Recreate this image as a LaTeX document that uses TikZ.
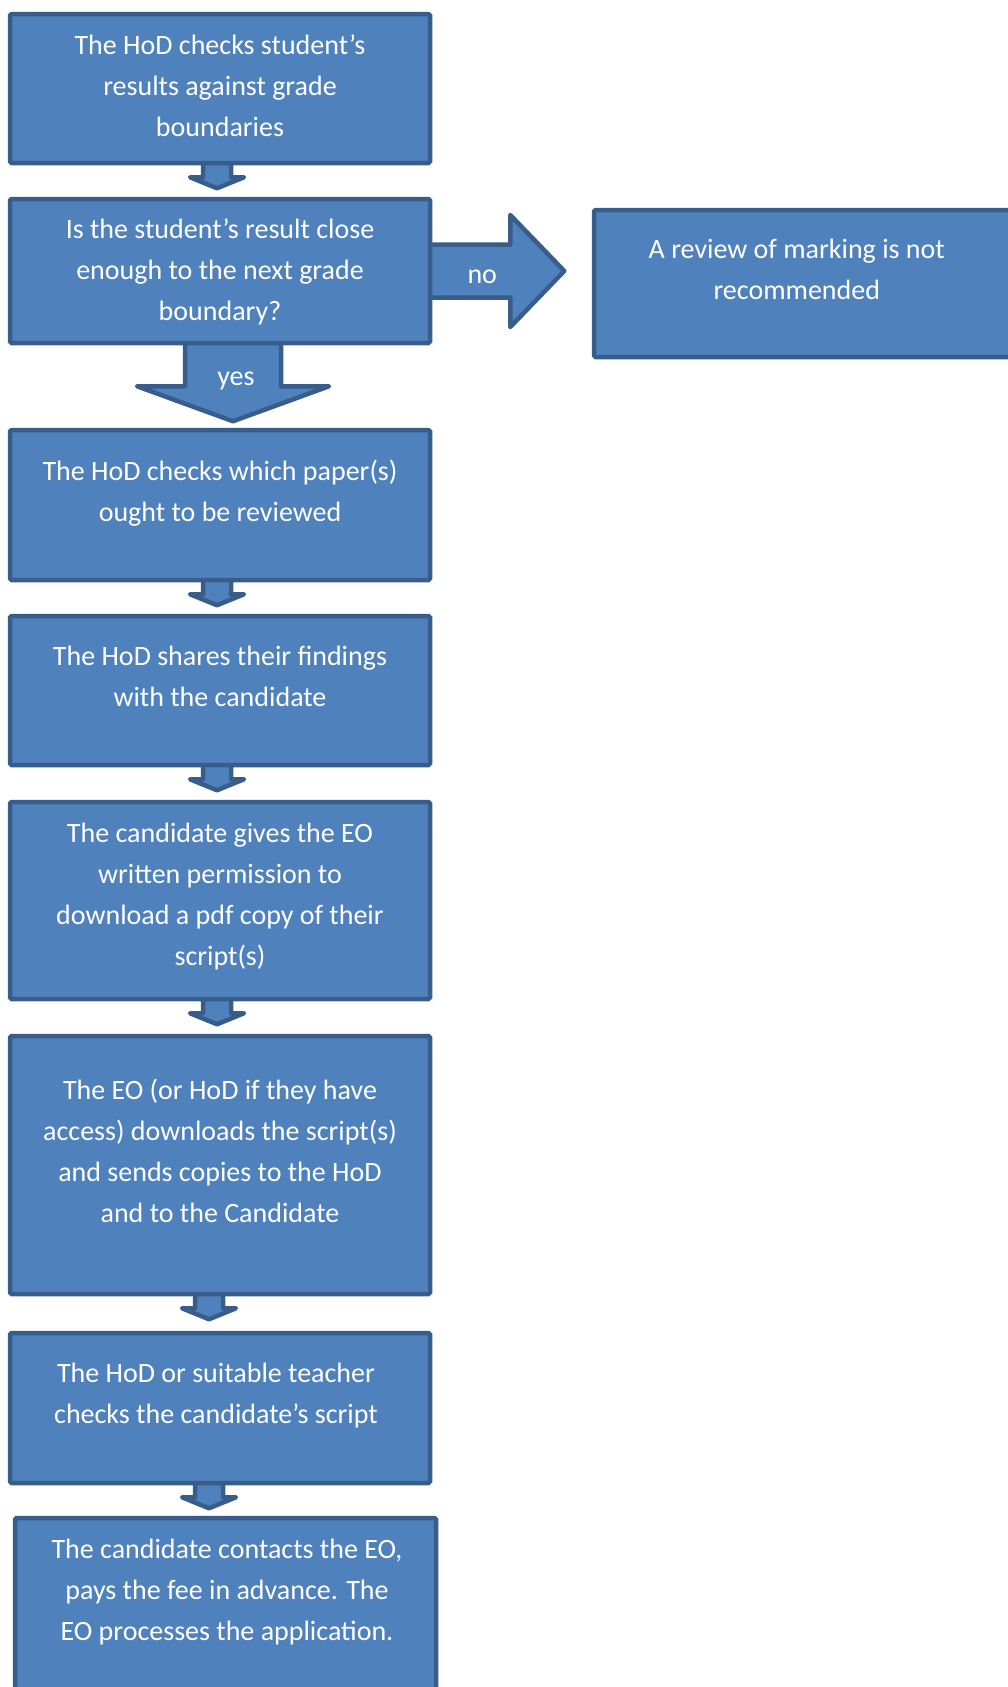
\documentclass[tikz,border=0pt]{standalone}
\usepackage{fontspec}
\setmainfont{Carlito}
\usetikzlibrary{calc,fit,backgrounds}
\definecolor{boxfill}{RGB}{79,129,189}
\definecolor{boxline}{RGB}{56,93,138}
\newcommand{\smallarr}[1]{%
  \draw[blockarrow] ($(#1)+(-14,-4)$) -- ($(#1)+(-14,12)$) -- ($(#1)+(-27,12)$) -- ($(#1)+(0,23)$) -- ($(#1)+(27,12)$) -- ($(#1)+(14,12)$) -- ($(#1)+(14,-4)$) -- cycle;}
\begin{document}
\begin{tikzpicture}[x=1pt,y=-1pt,
  pbox/.style={draw=boxline, fill=boxfill, line width=4.5pt, rounded corners=1.5pt, inner sep=0pt},
  ptext/.style={text=white, font=\fontsize{28}{41}\selectfont, align=center, inner sep=0pt, anchor=north, execute at begin node=\rule{0pt}{24pt}},
  blockarrow/.style={draw=boxline, fill=boxfill, line width=4.5pt, line join=round},
  alabel/.style={text=white, font=\fontsize{28}{34}\selectfont, inner sep=0pt}]
\useasboundingbox (0,0) rectangle (1007,1687);
% boxes
\node[pbox, fit={(10,14)(430,163)}] (b1) {};
\node[pbox, fit={(10,199)(430,343)}] (b2) {};
\node[pbox, fit={(594,210)(1015,357)}] (r) {};
\node[pbox, fit={(10,430)(430,580)}] (b3) {};
\node[pbox, fit={(10,616)(430,765)}] (b4) {};
\node[pbox, fit={(10,802)(430,999)}] (b5) {};
\node[pbox, fit={(10,1036)(430,1294)}] (b6) {};
\node[pbox, fit={(10,1333)(430,1483)}] (b7) {};
\node[pbox, fit={(15,1518)(436,1720)}] (b8) {};
% connector anchors
\coordinate (a12) at ($(b1.south)+(-3,0)$);
\coordinate (a34) at ($(b3.south)+(-3,0)$);
\coordinate (a45) at ($(b4.south)+(-3,0)$);
\coordinate (a56) at ($(b5.south)+(-3,0)$);
\coordinate (a67) at ($(b6.south)+(-11,0)$);
\coordinate (a78) at ($(b7.south)+(-11,0)$);
\coordinate (ay) at ($(b2.south)+(13,0)$);
\coordinate (an) at (b2.east);
\begin{pgfonlayer}{background}
\smallarr{a12}
\smallarr{a34}
\smallarr{a45}
\smallarr{a56}
\smallarr{a67}
\smallarr{a78}
% yes arrow
\draw[blockarrow] ($(ay)+(-48,-4)$) -- ($(ay)+(-48,41)$) -- ($(ay)+(-96,41)$) -- ($(ay)+(0,76)$) -- ($(ay)+(96,41)$) -- ($(ay)+(48,41)$) -- ($(ay)+(48,-4)$) -- cycle;
% no arrow
\draw[blockarrow] ($(an)+(-4,-26.5)$) -- ($(an)+(78,-26.5)$) -- ($(an)+(78,-56)$) -- ($(an)+(132,0)$) -- ($(an)+(78,56)$) -- ($(an)+(78,26.5)$) -- ($(an)+(-4,26.5)$) -- cycle;
\end{pgfonlayer}
% labels
\node[alabel] (lyes) at ($(ay)+(3,36)$) {yes};
\node[alabel] (lno) at ($(an)+(50,5.5)$) {no};
% texts
\node[ptext] (t1) at ($(b1.north)+(0,23)$) {The HoD checks student’s\\results against grade\\boundaries};
\node[ptext] (t2) at ($(b2.north)+(0,22)$) {Is the student’s result close\\enough to the next grade\\boundary?};
\node[ptext] (tr) at ($(r.north west)+(205,31)$) {A review of marking is not\\recommended};
\node[ptext] (t3) at ($(b3.north)+(0,32)$) {The HoD checks which paper(s)\\ought to be reviewed};
\node[ptext] (t4) at ($(b4.north)+(0,32)$) {The HoD shares their findings\\with the candidate};
\node[ptext] (t5) at ($(b5.north)+(0,23)$) {The candidate gives the EO\\written permission to\\download a pdf copy of their\\script(s)};
\node[ptext] (t6) at ($(b6.north)+(0,45)$) {The EO (or HoD if they have\\access) downloads the script(s)\\and sends copies to the HoD\\and to the Candidate};
\node[ptext] (t7) at ($(b7.north)+(-4,32)$) {The HoD or suitable teacher\\checks the candidate’s script};
\node[ptext] (t8) at ($(b8.north)+(1.5,23)$) {The candidate contacts the EO,\\pays the fee in advance. The\\EO processes the application.};
\end{tikzpicture}
\end{document}
